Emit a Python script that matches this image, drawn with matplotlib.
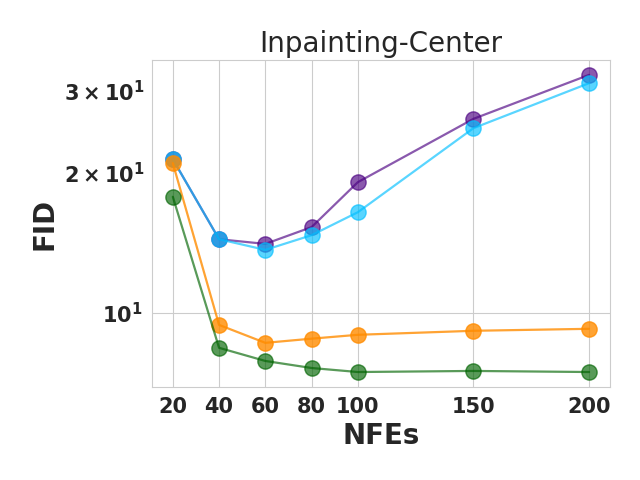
import matplotlib
matplotlib.use("Agg")
import matplotlib.pyplot as plt
import seaborn as sns

sns.set_style("whitegrid")

nfes = [20, 40, 60, 80, 100, 150, 200]
fid_purple = [21.4, 14.4, 14.07, 15.29, 19.1, 26.14, 32.5]
fid_cyan = [21.4, 14.4, 13.66, 14.69, 16.46, 24.96, 31.19]
fid_orange = [20.99, 9.42, 8.62, 8.80, 8.97, 9.15, 9.24]
fid_green = [17.77, 8.41, 7.88, 7.61, 7.46, 7.50, 7.46]

series = [
    (fid_purple, "indigo", 0.65),
    (fid_cyan, "deepskyblue", 0.65),
    (fid_orange, "darkorange", 0.8),
    (fid_green, "darkgreen", 0.65),
]

fig, ax = plt.subplots(figsize=(6.4, 4.8), dpi=100)
for vals, col, a in series:
    ax.plot(nfes, vals, marker="o", markersize=11, color=col, alpha=a, linewidth=1.6)

ax.set_yscale("log")
ax.set_xticks(nfes)
ax.set_title("Inpainting-Center", fontsize=20)
ax.set_xlabel("NFEs", fontsize=20, fontweight="bold")
ax.set_ylabel("FID", fontsize=20, fontweight="bold")
for lab in ax.get_xticklabels(which="both") + ax.get_yticklabels(which="both"):
    lab.set_fontweight("bold")
ax.tick_params(axis="both", which="both", labelsize=15)

fig.subplots_adjust(left=0.2375, right=0.953, top=0.875, bottom=0.194)
fig.savefig("out.png")
